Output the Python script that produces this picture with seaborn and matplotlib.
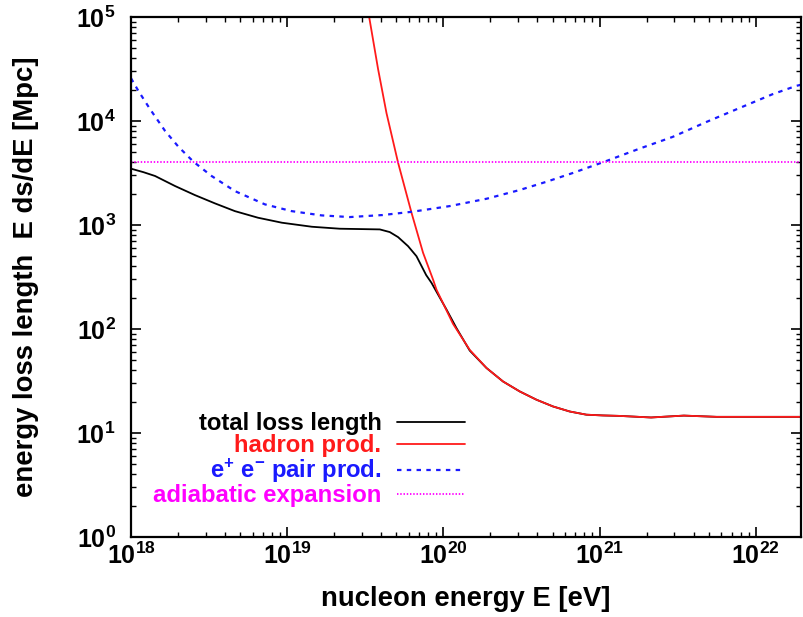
import numpy as np
import pandas as pd
import matplotlib
matplotlib.use("Agg")
import matplotlib.pyplot as plt
from matplotlib.ticker import FuncFormatter, LogLocator, NullFormatter
import seaborn as sns

# ---- data: log10 of nucleon energy [eV] and energy loss length [Mpc] ----
total_logE = [18.0, 18.08, 18.154, 18.282, 18.409, 18.537, 18.665, 18.813, 18.966,
              19.158, 19.337, 19.593, 19.657, 19.71, 19.774, 19.828, 19.89,
              19.924, 20.02, 20.084, 20.169, 20.276, 20.382, 20.489, 20.596,
              20.702, 20.809, 20.916, 21.022, 21.129, 21.33, 21.54, 21.75,
              22.0, 22.29]
total_len = [3480, 3220, 2960, 2370, 1940, 1615, 1360, 1175, 1052,
             962, 921, 907, 855, 765, 626, 501, 330,
             278, 154, 102, 62, 42.2, 31.3, 25.1, 20.9,
             18.0, 16.1, 15.0, 14.75, 14.6, 14.1, 14.7, 14.3,
             14.3, 14.3]

hadron_logE = [19.50, 19.525, 19.582, 19.636, 19.71, 19.796, 19.87, 19.934,
               19.956, 20.062, 20.169, 20.276, 20.382, 20.489, 20.596, 20.702,
               20.809, 20.916, 21.022, 21.129, 21.33, 21.54, 21.75, 22.0, 22.29]
hadron_len = [165000, 100000, 31600, 11900, 3980, 1313, 541, 299,
              239, 112, 63, 42.2, 31.3, 25.1, 20.9, 18.0,
              16.1, 15.0, 14.75, 14.6, 14.1, 14.7, 14.3, 14.3, 14.3]

pair_logE = [18.0, 18.047, 18.122, 18.218, 18.303, 18.399, 18.516, 18.665,
             18.857, 19.028, 19.22, 19.401, 19.612, 19.804, 20.041, 20.278,
             20.489, 20.662, 20.828, 21.045, 21.257, 21.468, 21.685, 21.894,
             22.108, 22.261, 22.29]
pair_len = [25800, 19500, 13000, 8030, 5670, 4070, 2960, 2120,
            1580, 1360, 1237, 1192, 1247, 1343, 1520, 1790,
            2170, 2610, 3160, 4130, 5430, 7030, 9800, 13280,
            18100, 21800, 22300]

adiabatic_logE = [18.0, 22.29]
adiabatic_len = [4000, 4000]

series_labels = ["total loss length", "hadron prod.",
                 r"e$^{+}$ e$^{-}$ pair prod.", "adiabatic expansion"]

# ---- style ----
sns.set_theme(style="white")
plt.rcParams.update({
    "font.family": ["Liberation Sans", "DejaVu Sans"],
    "font.weight": "bold",
    "mathtext.fontset": "custom",
    "mathtext.rm": "Liberation Sans:bold",
    "mathtext.bf": "Liberation Sans:bold",
    "mathtext.it": "Liberation Sans:bold",
    "mathtext.sf": "Liberation Sans:bold",
    "mathtext.default": "bf",
    "axes.linewidth": 1.6,
    "axes.edgecolor": "black",
    "text.color": "black",
    "axes.labelcolor": "black",
    "xtick.color": "black",
    "ytick.color": "black",
})

fig = plt.figure(figsize=(8.04, 6.17), dpi=100)
ax = fig.add_axes([131 / 804, 1 - 537 / 617, 670 / 804, 520 / 617])
ax.set(xscale="log", yscale="log")


def frame(logE, length):
    return pd.DataFrame({"E": 10.0 ** np.asarray(logE, dtype=float),
                         "L": np.asarray(length, dtype=float)})


styles = [
    (total_logE, total_len, "black", "-", 1.3),
    (hadron_logE, hadron_len, "#ff1a1a", "-", 1.3),
    (pair_logE, pair_len, "#1a1aff", (0, (2.0, 2.4)), 1.6),
    (adiabatic_logE, adiabatic_len, "#ff00ff", (0, (0.8, 1.0)), 1.3),
]
for (lx, ly, col, ls, lw), lab in zip(styles, series_labels):
    sns.lineplot(data=frame(lx, ly), x="E", y="L", ax=ax, color=col,
                 linestyle=ls, linewidth=lw, label=lab,
                 estimator=None, sort=False)

ax.set_xlim(1e18, 1.95e22)
ax.set_ylim(1e0, 1e5)

# ticks on all four sides, pointing inward
ax.xaxis.set_major_locator(LogLocator(base=10, numticks=20))
ax.yaxis.set_major_locator(LogLocator(base=10, numticks=20))
ax.xaxis.set_minor_locator(LogLocator(base=10, subs=np.arange(2, 10), numticks=50))
ax.yaxis.set_minor_locator(LogLocator(base=10, subs=np.arange(2, 10), numticks=50))
ax.xaxis.set_minor_formatter(NullFormatter())
ax.yaxis.set_minor_formatter(NullFormatter())
sci = FuncFormatter(lambda v, pos: r"$\mathbf{10^{%d}}$" % round(np.log10(v)))
ax.xaxis.set_major_formatter(sci)
ax.yaxis.set_major_formatter(sci)
ax.tick_params(which="both", direction="in", top=True, right=True,
               bottom=True, left=True, color="black", labelcolor="black")
ax.tick_params(which="major", length=7.5, width=1.2, labelsize=18)
ax.tick_params(which="minor", length=3.8, width=1.0)
ax.tick_params(axis="x", which="major", pad=4)
ax.tick_params(axis="y", which="major", pad=11)

ax.set_xlabel("nucleon energy E [eV]", fontsize=19.8, fontweight="bold",
              color="black")
ax.set_ylabel("energy loss length  E ds/dE [Mpc]", fontsize=19.8,
              fontweight="bold", color="black")
ax.xaxis.set_label_coords(0.5, -0.095)
ax.yaxis.set_label_coords(-0.137, 0.5)

leg = ax.legend(loc="upper right", bbox_to_anchor=(0.4985, 0.240),
                frameon=False, markerfirst=False, labelcolor="linecolor",
                prop={"family": "Liberation Sans", "weight": "bold", "size": 17.2},
                handlelength=2.85, handletextpad=0.65, labelspacing=-0.03,
                borderpad=0.0, borderaxespad=0.0)

fig.savefig("out.png", dpi=100)
